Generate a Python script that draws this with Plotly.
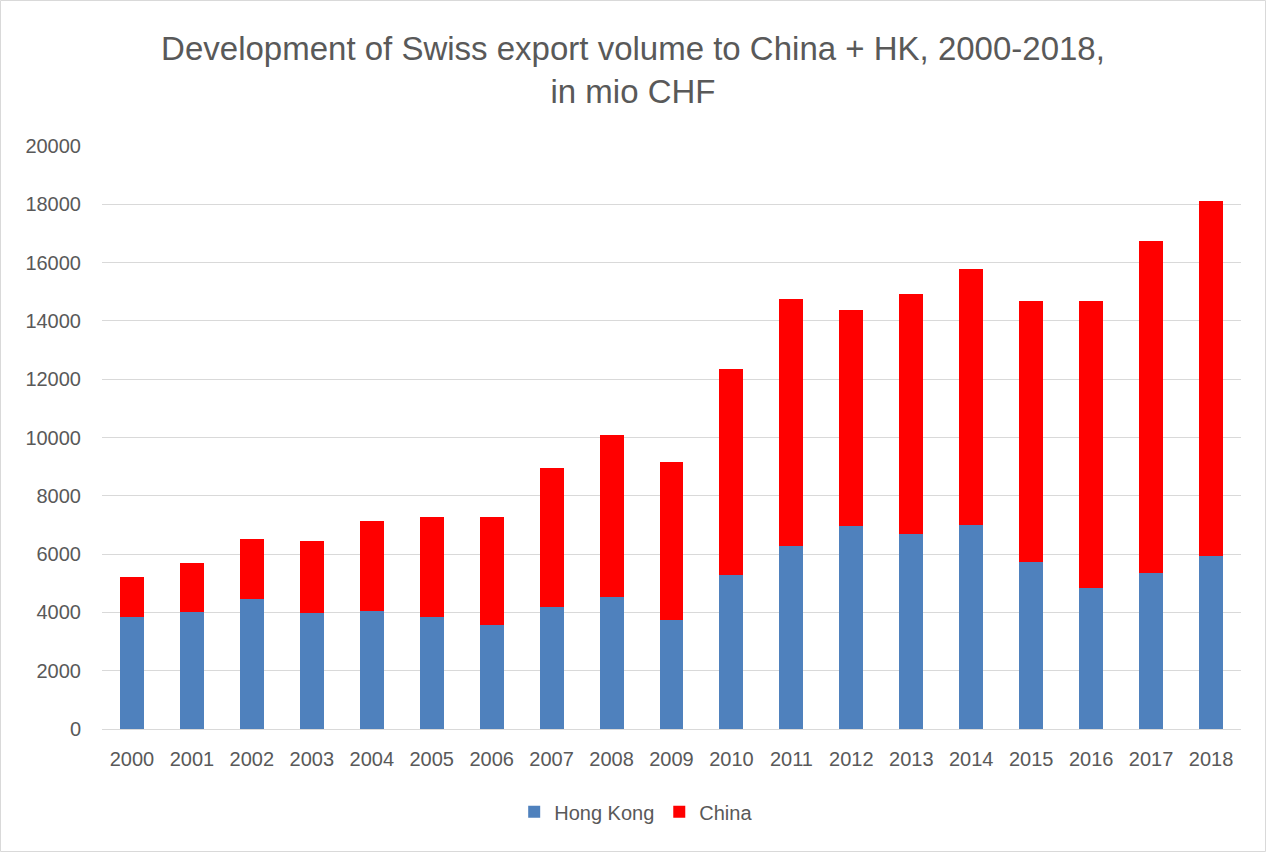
import plotly.graph_objects as go

years = [str(y) for y in range(2000, 2019)]
hong_kong = [3830, 4030, 4460, 3990, 4060, 3840, 3555, 4195, 4530, 3745,
             5290, 6280, 6975, 6705, 6990, 5740, 4845, 5345, 5945]
total = [5225, 5685, 6515, 6445, 7135, 7275, 7290, 8955, 10070, 9160,
         12360, 14735, 14385, 14910, 15795, 14695, 14695, 16745, 18130]
china = [t - h for t, h in zip(total, hong_kong)]

font = "Liberation Sans"
grey = "#595959"

fig = go.Figure()
fig.add_trace(go.Bar(x=years, y=hong_kong, name="Hong Kong", marker_color="#4F81BD",
                     marker_line_width=0))
fig.add_trace(go.Bar(x=years, y=china, name="China", marker_color="#FF0000",
                     marker_line_width=0))

fig.update_layout(
    width=1266, height=852,
    barmode="stack", bargap=0.6,
    paper_bgcolor="white", plot_bgcolor="white",
    margin=dict(l=102, r=25, t=146, b=123, autoexpand=False),
    title=dict(text="Development of Swiss export volume to China + HK, 2000-2018,<br>in mio CHF",
               x=0.5, xanchor="center", yref="container", y=1 - 60 / 852, yanchor="middle",
               font=dict(family=font, size=33, color=grey)),
    font=dict(family=font, size=20, color=grey),
    legend=dict(orientation="h", x=0.469, xanchor="center",
                y=-0.142, yanchor="middle",
                font=dict(size=20, color=grey), traceorder="normal"),
    xaxis=dict(showline=True, linecolor="#D9D9D9", linewidth=1, ticks="",
               tickangle=0, ticklabelstandoff=12, tickfont=dict(size=20, color=grey)),
    yaxis=dict(range=[0, 20000], dtick=2000, tickformat="d", showgrid=True,
               gridcolor="#D9D9D9", gridwidth=1, zeroline=False, ticks="",
               ticklabelstandoff=20, tickfont=dict(size=20, color=grey)),
    shapes=[dict(type="rect", xref="paper", yref="paper", x0=-101.5/1139, x1=1+24.5/1139,
                 y0=-122.5/583, y1=1+145.5/583, line=dict(color="#D9D9D9", width=1))],
)

fig.write_html("out.html", config={"displayModeBar": False},
               post_script="document.body.style.margin='0';")
